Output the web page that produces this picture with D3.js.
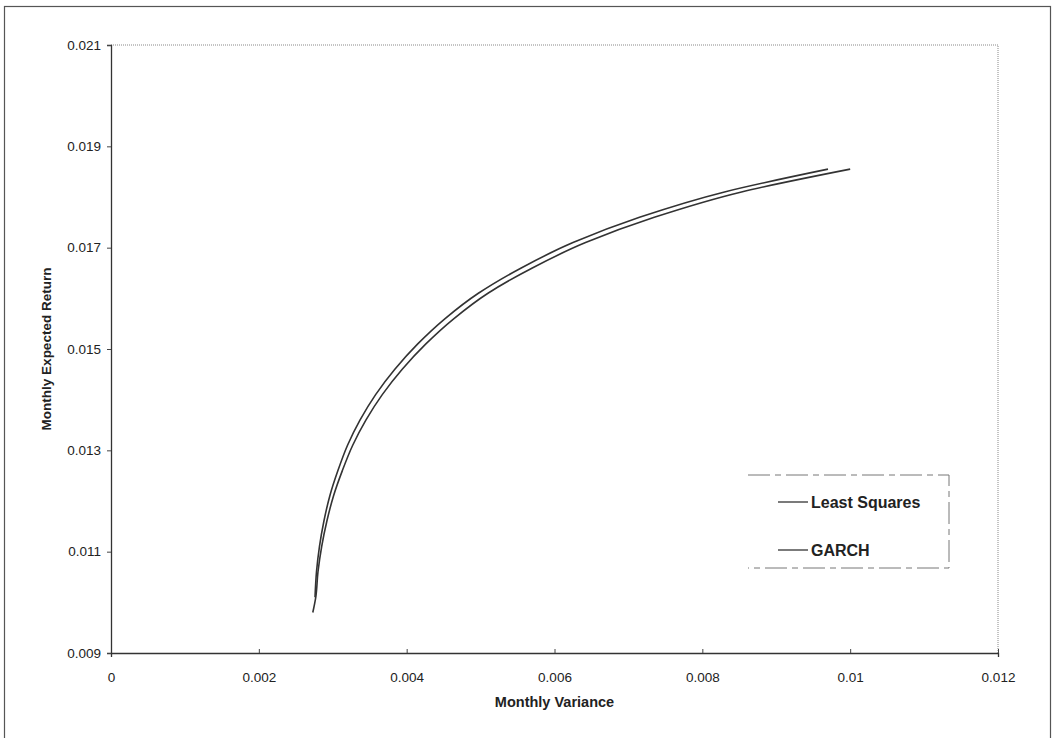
<!DOCTYPE html>
<html>
<head>
<meta charset="utf-8">
<script src="https://cdn.jsdelivr.net/npm/d3@7"></script>
<style>
  html, body { margin: 0; padding: 0; background: #fff; }
  svg { display: block; font-family: "Liberation Sans", Arial, sans-serif; }
</style>
</head>
<body>
<svg id="chart" width="1062" height="738"></svg>
<script>
// Efficient frontier: monthly variance vs monthly expected return
const xTicks = [0, 0.002, 0.004, 0.006, 0.008, 0.01, 0.012];
const xTickLabels = ["0", "0.002", "0.004", "0.006", "0.008", "0.01", "0.012"];
const yTicks = [0.009, 0.011, 0.013, 0.015, 0.017, 0.019, 0.021];
const yTickLabels = ["0.009", "0.011", "0.013", "0.015", "0.017", "0.019", "0.021"];

const seriesNames = ["Least Squares", "GARCH"];

const lsReturn   = [0.0101, 0.0106, 0.0111, 0.0116, 0.0121, 0.0126, 0.0131, 0.0136, 0.0141, 0.0146, 0.0151, 0.0156, 0.0161, 0.0166, 0.0171, 0.0176, 0.0181, 0.01855];
const lsVariance = [0.00276, 0.00278, 0.00282, 0.00288, 0.00296, 0.00307, 0.00320, 0.00337, 0.00358, 0.00384, 0.00415, 0.00452, 0.00497, 0.00555, 0.00625, 0.00715, 0.00830, 0.00970];

const garchReturn   = [0.0098, 0.0101, 0.0106, 0.0111, 0.0116, 0.0121, 0.0126, 0.0131, 0.0136, 0.0141, 0.0146, 0.0151, 0.0156, 0.0161, 0.0166, 0.0171, 0.0176, 0.0181, 0.01855];
const garchVariance = [0.00273, 0.00277, 0.00280, 0.00285, 0.00292, 0.00301, 0.00313, 0.00327, 0.00345, 0.00367, 0.00394, 0.00426, 0.00464, 0.00510, 0.00570, 0.00642, 0.00735, 0.00853, 0.01000];

const svg = d3.select("#chart");
const plot = { left: 111, right: 998, top: 45, bottom: 653 };

const x = d3.scaleLinear().domain([0, 0.012]).range([plot.left, plot.right]);
const y = d3.scaleLinear().domain([0.009, 0.021]).range([plot.bottom, plot.top]);

// outer frame
svg.append("rect")
  .attr("x", 4.5).attr("y", 6.5).attr("width", 1046).attr("height", 740)
  .attr("fill", "none").attr("stroke", "#555").attr("stroke-width", 1.2);

// plot border (top/right dotted)
svg.append("path")
  .attr("d", `M${plot.left},${plot.top}H${plot.right}V${plot.bottom}`)
  .attr("fill", "none").attr("stroke", "#888").attr("stroke-width", 1)
  .attr("stroke-dasharray", "1,1");

// axes
const xAxis = d3.axisBottom(x).tickValues(xTicks)
  .tickFormat((d, i) => xTickLabels[i]).tickSize(4).tickPadding(15);
const yAxis = d3.axisLeft(y).tickValues(yTicks)
  .tickFormat((d, i) => yTickLabels[i]).tickSize(4).tickPadding(6);

const gx = svg.append("g").attr("transform", `translate(0,${plot.bottom})`).call(xAxis);
const gy = svg.append("g").attr("transform", `translate(${plot.left},0)`).call(yAxis);
[gx, gy].forEach(g => {
  g.select(".domain").attr("stroke", "#333").attr("stroke-width", 1.3);
  g.selectAll(".tick line").attr("stroke", "#444");
  g.selectAll(".tick text").attr("fill", "#222")
    .style("font-size", "13.5px").style("font-family", "Liberation Sans, Arial, sans-serif");
});
gx.selectAll(".tick line").attr("y2", -4);

// axis titles
svg.append("text")
  .attr("x", (plot.left + plot.right) / 2).attr("y", 707)
  .attr("text-anchor", "middle").attr("font-weight", "bold")
  .attr("font-size", 14.5).attr("fill", "#222")
  .text("Monthly Variance");
svg.append("text")
  .attr("transform", `translate(51,${(plot.top + plot.bottom) / 2}) rotate(-90)`)
  .attr("text-anchor", "middle").attr("font-weight", "bold")
  .attr("font-size", 13.5).attr("fill", "#222")
  .text("Monthly Expected Return");

// frontier lines (return is monotonic along each frontier)
const line = d3.line().x(d => x(d[0])).y(d => y(d[1])).curve(d3.curveMonotoneY);
const lsData = d3.zip(lsVariance, lsReturn);
const garchData = d3.zip(garchVariance, garchReturn);

svg.append("path").datum(lsData).attr("d", line)
  .attr("fill", "none").attr("stroke", "#333").attr("stroke-width", 1.6);
svg.append("path").datum(garchData).attr("d", line)
  .attr("fill", "none").attr("stroke", "#333").attr("stroke-width", 1.6);

// legend
const legend = svg.append("g");
legend.append("path")
  .attr("d", "M748,475H949V568H748")
  .attr("fill", "none").attr("stroke", "#777").attr("stroke-width", 1)
  .attr("stroke-dasharray", "22,5,6,5");
const legendY = [502, 550];
seriesNames.forEach((name, i) => {
  legend.append("line")
    .attr("x1", 778).attr("x2", 808).attr("y1", legendY[i]).attr("y2", legendY[i])
    .attr("stroke", "#333").attr("stroke-width", 1.3);
  legend.append("text")
    .attr("x", 811).attr("y", legendY[i] + 5.5)
    .attr("font-weight", "bold").attr("font-size", 16).attr("fill", "#222")
    .text(name);
});
</script>
</body>
</html>
